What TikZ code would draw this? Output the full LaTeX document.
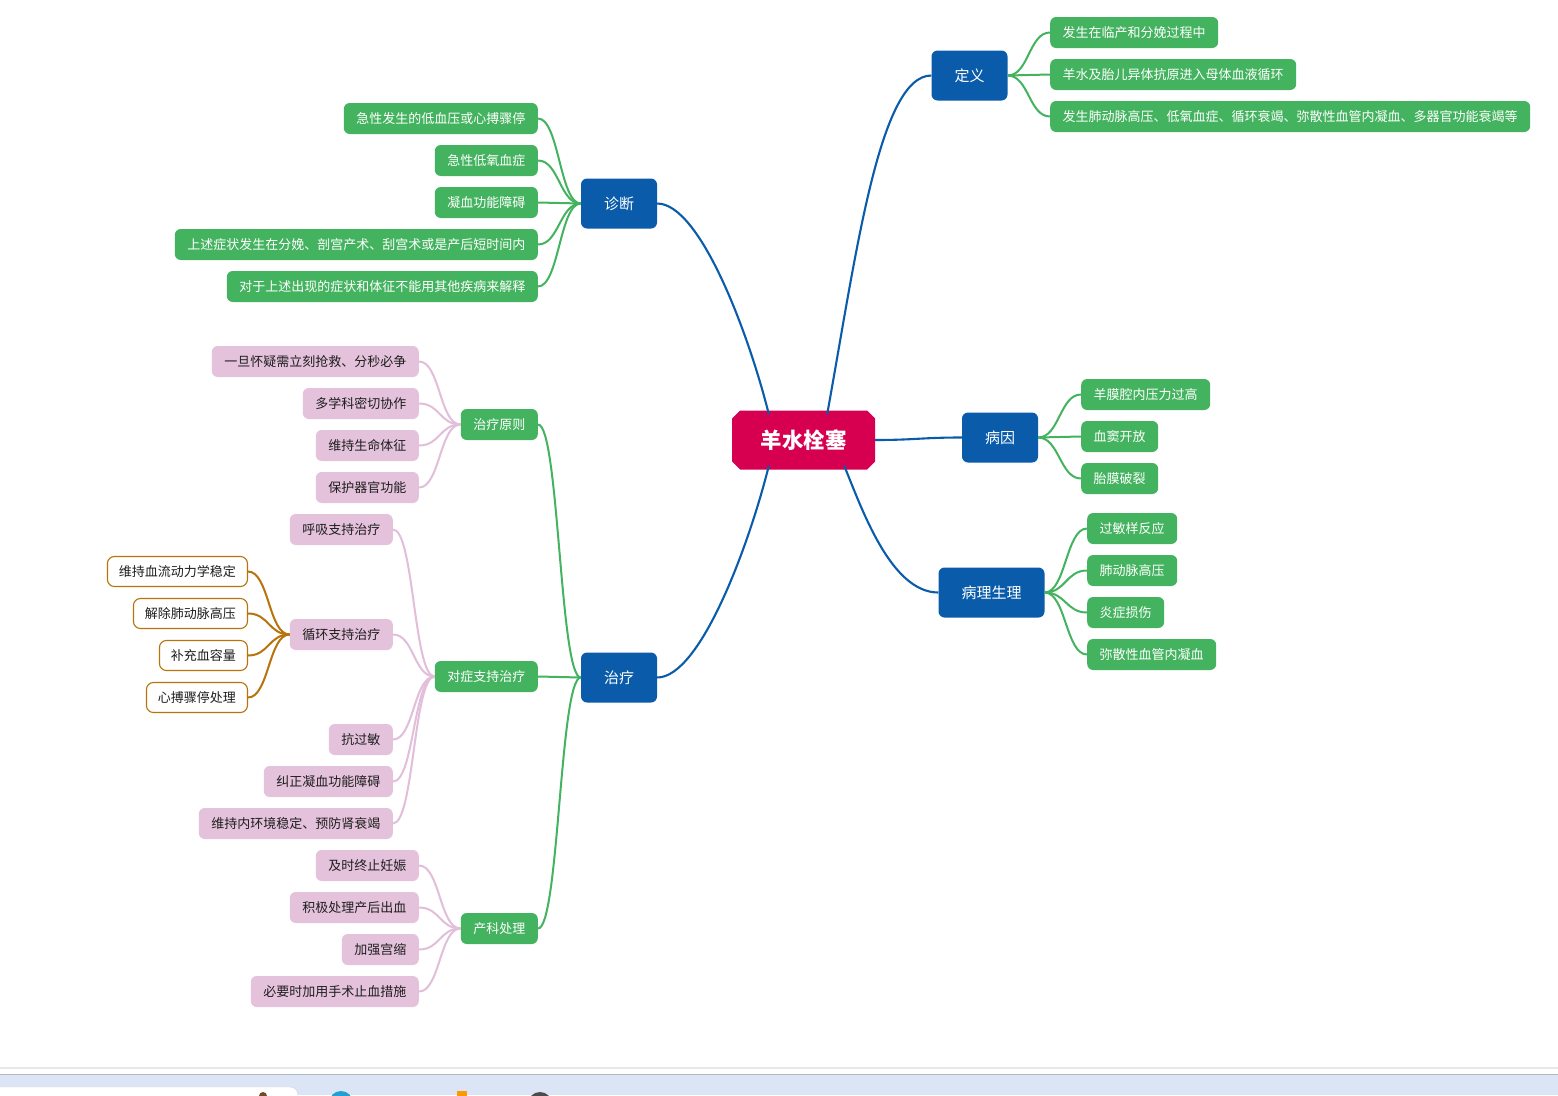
\documentclass[tikz,border=0pt]{standalone}
\usepackage{fontspec}
\setmainfont{Noto Sans CJK SC}
\usetikzlibrary{shapes.misc}
\definecolor{cblue}{HTML}{0A5CAA}
\definecolor{cgreen}{HTML}{44B35F}
\definecolor{cpink}{HTML}{E4C2DC}
\definecolor{cpinkline}{HTML}{E2BEDA}
\definecolor{cmag}{HTML}{D70050}
\definecolor{cbrown}{HTML}{B8740C}
\definecolor{ctext}{HTML}{1E1E1E}
\definecolor{cbar}{HTML}{DCE5F5}
\definecolor{cbarline}{HTML}{B4BAC4}
\begin{document}
\begin{tikzpicture}[x=1pt,y=-1pt,
  rootbox/.style={chamfered rectangle, chamfered rectangle xsep=4pt, chamfered rectangle ysep=4pt,
    fill=cmag, text=white, minimum width=143pt, minimum height=59pt, inner sep=0pt,
    font=\fontsize{21.5}{21.5}\bfseries},
  mainbox/.style={fill=cblue, text=white, rounded corners=6pt, minimum height=50pt,
    inner xsep=23pt, inner ysep=0pt, font=\fontsize{15}{15}\selectfont},
  leafg/.style={fill=cgreen, text=white, rounded corners=6pt, minimum height=31pt,
    inner xsep=12.5pt, inner ysep=0pt, font=\fontsize{13}{13}\selectfont},
  leafp/.style={fill=cpink, text=ctext, rounded corners=6pt, minimum height=31pt,
    inner xsep=12.5pt, inner ysep=0pt, font=\fontsize{13}{13}\selectfont},
  leafw/.style={fill=white, draw=cbrown, line width=1.1pt, text=ctext, rounded corners=7pt, minimum height=30pt,
    inner xsep=11.5pt, inner ysep=0pt, font=\fontsize{13}{13}\selectfont},
  lblue/.style={draw=cblue, line width=2.1pt},
  lgreen/.style={draw=cgreen, line width=2pt},
  lpink/.style={draw=cpinkline, line width=2pt},
  lbrown/.style={draw=cbrown, line width=2pt},
  sconn/.style={out=#1, in=180+#1, distance=21pt}
]
\useasboundingbox (0,0) rectangle (1558,1095);
\fill[white] (0,0) rectangle (1558,1095);

% bottom bar
\fill[cbar] (0,1075) rectangle (1558,1095);
\draw[gray!18, line width=2pt] (0,1068) -- (1558,1068);
\draw[cbarline, line width=1.5pt] (0,1074.5) -- (1558,1074.5);
\fill[white, draw=cbarline!60, rounded corners=8pt] (-10,1087) rectangle (298,1105);
\fill[brown!60!black] (263,1096) circle (4pt);
\fill[cyan!70!teal] (341,1103) circle (12pt);
\fill[orange!80!yellow] (457,1091) rectangle (467,1100);
\fill[gray!60!black] (540,1104) circle (12pt);

% root and main branches
\node[rootbox] (root) at (803.5,440) {羊水栓塞};
\node[mainbox] (dy) at (969.5,75.5) {定义};
\node[mainbox] (zd) at (619,203.5) {诊断};
\node[mainbox] (by) at (1000,437.5) {病因};
\node[mainbox] (bl) at (991.5,592.5) {病理生理};
\node[mainbox] (zl) at (619,677.5) {治疗};

\draw[lblue] ([xshift=-44pt]root.north east) .. controls +(29,-160) and +(-52,0) .. (dy.west);
\draw[lblue] ([xshift=33pt]root.north west) .. controls +(-20,-80) and +(43,0) .. (zd.east);
\draw[lblue] (root.east) .. controls +(40,0) and +(-40,0) .. (by.west);
\draw[lblue] ([xshift=-27pt]root.south east) .. controls +(17,41) and +(-48,0) .. (bl.west);
\draw[lblue] ([xshift=33pt]root.south west) .. controls +(-20,80) and +(43,0) .. (zl.east);

% 定义
\node[leafg, anchor=west] (d1) at (1050,32.5) {发生在临产和分娩过程中};
\node[leafg, anchor=west] (d2) at (1050,74.5) {羊水及胎儿异体抗原进入母体血液循环};
\node[leafg, anchor=west] (d3) at (1050,116.5) {发生肺动脉高压、低氧血症、循环衰竭、弥散性血管内凝血、多器官功能衰竭等};
\foreach \c in {d1,d2,d3} \draw[lgreen] (dy.east) to[sconn=0] (\c.west);

% 诊断
\node[leafg, anchor=east] (z1) at (538,118.5) {急性发生的低血压或心搏骤停};
\node[leafg, anchor=east] (z2) at (538,160.5) {急性低氧血症};
\node[leafg, anchor=east] (z3) at (538,202.5) {凝血功能障碍};
\node[leafg, anchor=east] (z4) at (538,244.5) {上述症状发生在分娩、剖宫产术、刮宫术或是产后短时间内};
\node[leafg, anchor=east] (z5) at (538,286.5) {对于上述出现的症状和体征不能用其他疾病来解释};
\foreach \c in {z1,z2,z3,z4,z5} \draw[lgreen] (zd.west) to[sconn=180] (\c.east);

% 病因
\node[leafg, anchor=west] (b1) at (1081,394.5) {羊膜腔内压力过高};
\node[leafg, anchor=west] (b2) at (1081,436.5) {血窦开放};
\node[leafg, anchor=west] (b3) at (1081,478.5) {胎膜破裂};
\foreach \c in {b1,b2,b3} \draw[lgreen] (by.east) to[sconn=0] (\c.west);

% 病理生理
\node[leafg, anchor=west] (p1) at (1087,528.5) {过敏样反应};
\node[leafg, anchor=west] (p2) at (1087,570.5) {肺动脉高压};
\node[leafg, anchor=west] (p3) at (1087,612.5) {炎症损伤};
\node[leafg, anchor=west] (p4) at (1087,654.5) {弥散性血管内凝血};
\foreach \c in {p1,p2,p3,p4} \draw[lgreen] (bl.east) to[sconn=0] (\c.west);

% 治疗
\node[leafg, anchor=east] (t1) at (538,424.5) {治疗原则};
\node[leafg, anchor=east] (t2) at (538,676.5) {对症支持治疗};
\node[leafg, anchor=east] (t3) at (538,928.5) {产科处理};
\foreach \c in {t1,t2,t3} \draw[lgreen] (zl.west) to[sconn=180] (\c.east);

% 治疗原则
\node[leafp, anchor=east] (y1) at (419,361.5) {一旦怀疑需立刻抢救、分秒必争};
\node[leafp, anchor=east] (y2) at (419,403.5) {多学科密切协作};
\node[leafp, anchor=east] (y3) at (419,445.5) {维持生命体征};
\node[leafp, anchor=east] (y4) at (419,487.5) {保护器官功能};
\foreach \c in {y1,y2,y3,y4} \draw[lpink] (t1.west) to[sconn=180] (\c.east);

% 对症支持治疗
\node[leafp, anchor=east] (s1) at (393,529.5) {呼吸支持治疗};
\node[leafp, anchor=east] (s2) at (393,634.5) {循环支持治疗};
\node[leafp, anchor=east] (s3) at (393,739.5) {抗过敏};
\node[leafp, anchor=east] (s4) at (393,781.5) {纠正凝血功能障碍};
\node[leafp, anchor=east] (s5) at (393,823.5) {维持内环境稳定、预防肾衰竭};
\foreach \c in {s1,s2,s3,s4,s5} \draw[lpink] (t2.west) to[sconn=180] (\c.east);

% 循环支持治疗
\node[leafw, anchor=east] (c1) at (248,571.5) {维持血流动力学稳定};
\node[leafw, anchor=east] (c2) at (248,613.5) {解除肺动脉高压};
\node[leafw, anchor=east] (c3) at (248,655.5) {补充血容量};
\node[leafw, anchor=east] (c4) at (248,697.5) {心搏骤停处理};
\foreach \c in {c1,c2,c3,c4} \draw[lbrown] (s2.west) to[sconn=180] (\c.east);

% 产科处理
\node[leafp, anchor=east] (k1) at (419,865.5) {及时终止妊娠};
\node[leafp, anchor=east] (k2) at (419,907.5) {积极处理产后出血};
\node[leafp, anchor=east] (k3) at (419,949.5) {加强宫缩};
\node[leafp, anchor=east] (k4) at (419,991.5) {必要时加用手术止血措施};
\foreach \c in {k1,k2,k3,k4} \draw[lpink] (t3.west) to[sconn=180] (\c.east);
\end{tikzpicture}
\end{document}
